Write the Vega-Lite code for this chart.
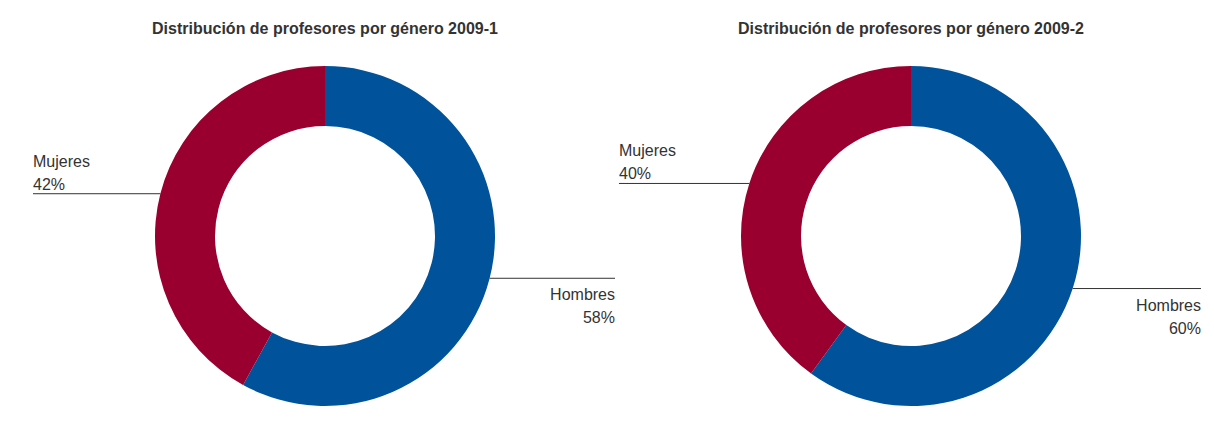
{
  "$schema": "https://vega.github.io/schema/vega-lite/v6.json",
  "padding": {"left": 32, "right": 10, "top": 21, "bottom": 0},
  "autosize": {"type": "pad"},
  "background": "white",
  "config": {"view": {"stroke": null}, "font": "Liberation Sans"},
  "data": {
    "values": [
      {"periodo": "2009-1", "genero": "Hombres", "pct": 58},
      {"periodo": "2009-1", "genero": "Mujeres", "pct": 42},
      {"periodo": "2009-2", "genero": "Hombres", "pct": 60},
      {"periodo": "2009-2", "genero": "Mujeres", "pct": 40}
    ]
  },
  "transform": [
    {"window": [{"op": "sum", "field": "pct", "as": "acum"}], "groupby": ["periodo"], "sort": [{"field": "genero", "order": "ascending"}], "frame": [null, 0]},
    {"calculate": "(datum.acum - datum.pct / 2) / 100 * 2 * PI", "as": "ang"},
    {"calculate": "170 * sin(datum.ang)", "as": "px"},
    {"calculate": "170 * cos(datum.ang)", "as": "py"},
    {"calculate": "datum.px < 0 ? -292 : 290", "as": "qx"},
    {"calculate": "[datum.genero, datum.pct + '%']", "as": "etiqueta"}
  ],
  "spacing": 0,
  "facet": {
    "column": {
      "field": "periodo",
      "type": "nominal",
      "title": null,
      "header": {
        "labelExpr": "'Distribución de profesores por género ' + datum.value",
        "labelFont": "Liberation Sans",
        "labelFontSize": 16,
        "labelFontWeight": "bold",
        "labelColor": "#333333",
        "labelPadding": 14
      }
    }
  },
  "spec": {
    "width": 586,
    "height": 370,
    "layer": [
      {
        "mark": {"type": "arc", "innerRadius": 110, "outerRadius": 170},
        "encoding": {
          "theta": {"field": "pct", "type": "quantitative", "stack": true},
          "order": {"field": "genero", "sort": "ascending"},
          "color": {
            "field": "genero",
            "type": "nominal",
            "scale": {"domain": ["Hombres", "Mujeres"], "range": ["#00539B", "#99002F"]},
            "legend": null
          }
        }
      },
      {
        "mark": {"type": "rule", "color": "#333333", "strokeWidth": 1},
        "encoding": {
          "x": {"field": "px", "type": "quantitative", "scale": {"domain": [-293, 293], "nice": false, "zero": false}, "axis": null},
          "x2": {"field": "qx"},
          "y": {"field": "py", "type": "quantitative", "scale": {"domain": [-185, 185], "nice": false, "zero": false}, "axis": null}
        }
      },
      {
        "transform": [{"filter": "datum.px < 0"}],
        "mark": {"type": "text", "align": "left", "baseline": "bottom", "dy": -24, "fontSize": 16, "lineHeight": 23, "color": "#333333", "font": "Liberation Sans"},
        "encoding": {
          "x": {"field": "qx", "type": "quantitative"},
          "y": {"field": "py", "type": "quantitative"},
          "text": {"field": "etiqueta"}
        }
      },
      {
        "transform": [{"filter": "datum.px >= 0"}],
        "mark": {"type": "text", "align": "right", "baseline": "top", "dy": 9, "fontSize": 16, "lineHeight": 23, "color": "#333333", "font": "Liberation Sans"},
        "encoding": {
          "x": {"field": "qx", "type": "quantitative"},
          "y": {"field": "py", "type": "quantitative"},
          "text": {"field": "etiqueta"}
        }
      }
    ]
  }
}
